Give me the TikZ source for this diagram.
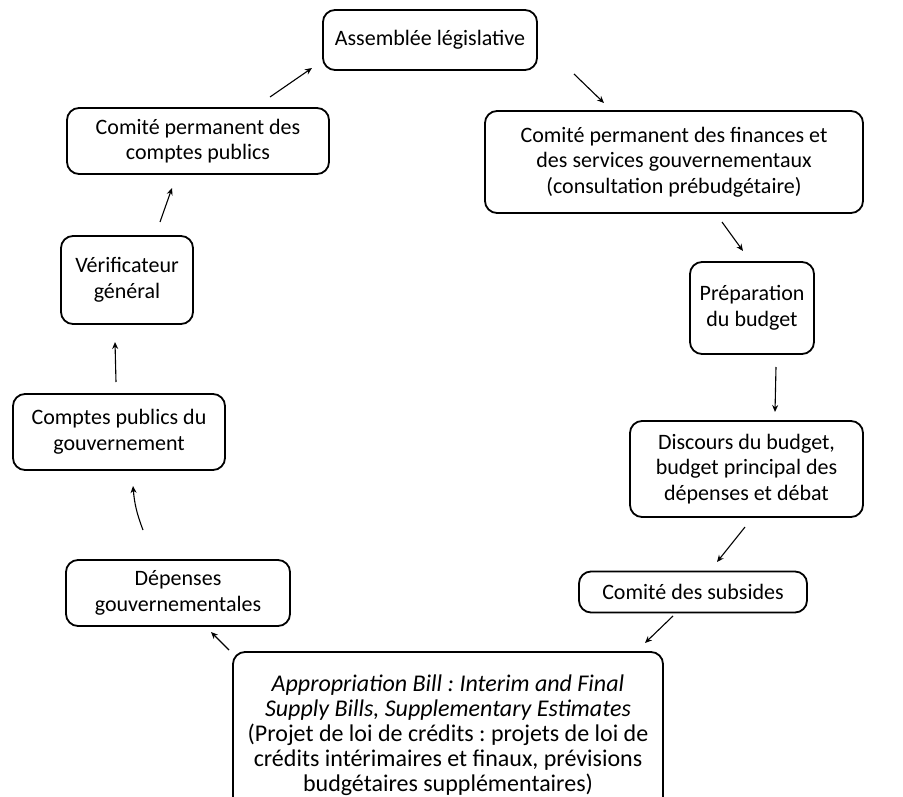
\documentclass[tikz,border=0pt]{standalone}
\usepackage{fontspec}
\setmainfont{Carlito}
\usetikzlibrary{arrows.meta}
\frenchspacing
\begin{document}
\begin{tikzpicture}[x=1pt,y=-1pt,
  box/.style={draw=black, line width=1.8pt, rounded corners=12pt, align=center,
    inner sep=0pt, font=\fontsize{22}{25.5}\selectfont},
  arr/.style={-{Stealth[length=7pt,width=6pt]}, line width=1.1pt}]
\useasboundingbox (0,0) rectangle (903,797);
\clip (0,0) rectangle (903,797);
\fill[white] (0,0) rectangle (903,797);

\node[box, minimum width=214pt, minimum height=60pt] (asm) at (430,40) {Assemblée législative};
\node[box, minimum width=378pt, minimum height=102pt] (fin) at (674,162)
  {Comité permanent des finances et\\des services gouvernementaux\\(consultation prébudgétaire)};
\node[box, minimum width=124pt, minimum height=92pt] (prep) at (752,308) {Préparation\\du budget};
\node[box, minimum width=233pt, minimum height=96pt] (disc) at (746.5,469)
  {Discours du budget,\\budget principal des\\dépenses et débat};
\node[box, minimum width=228pt, minimum height=41pt] (sub) at (693,592) {Comité des subsides};
\node[box, minimum width=430pt, minimum height=166pt, font=\fontsize{24}{25}\selectfont] (app) at (448,735)
  {\textit{Appropriation Bill : Interim and Final}\\\textit{Supply Bills, Supplementary Estimates}\\(Projet de loi de crédits : projets de loi de\\crédits intérimaires et finaux, prévisions\\budgétaires supplémentaires)};
\node[box, minimum width=224pt, minimum height=66pt] (dep) at (178,593) {Dépenses\\gouvernementales};
\node[box, minimum width=212pt, minimum height=76pt] (cpg) at (119,432) {Comptes publics du\\gouvernement};
\node[box, minimum width=132pt, minimum height=88pt] (ver) at (127,280) {Vérificateur\\général};
\node[box, minimum width=262pt, minimum height=66pt] (cpp) at (198,141) {Comité permanent des\\comptes publics};

\coordinate (a1s) at (270,97);  \coordinate (a1e) at (312,68);
\coordinate (a2s) at (574,74);  \coordinate (a2e) at (604,103);
\coordinate (a3s) at (722,222); \coordinate (a3e) at (743,251);
\coordinate (a4s) at (776,367); \coordinate (a4e) at (775,412);
\coordinate (a5s) at (745,527); \coordinate (a5e) at (717,562);
\coordinate (a6s) at (673,616); \coordinate (a6e) at (645,643);
\coordinate (a7s) at (229,650); \coordinate (a7e) at (211,632);
\coordinate (a8s) at (143,530); \coordinate (a8e) at (133,486);
\coordinate (a9s) at (116,382); \coordinate (a9e) at (115,342);
\coordinate (a10s) at (160,222); \coordinate (a10e) at (172,188);

\draw[arr] (a1s) -- (a1e);
\draw[arr] (a2s) -- (a2e);
\draw[arr] (a3s) -- (a3e);
\draw[arr] (a4s) -- (a4e);
\draw[arr] (a5s) -- (a5e);
\draw[arr] (a6s) -- (a6e);
\draw[arr] (a7s) -- (a7e);
\draw[arr] (a8s) to[bend left=8] (a8e);
\draw[arr] (a9s) -- (a9e);
\draw[arr] (a10s) -- (a10e);
\end{tikzpicture}
\end{document}
